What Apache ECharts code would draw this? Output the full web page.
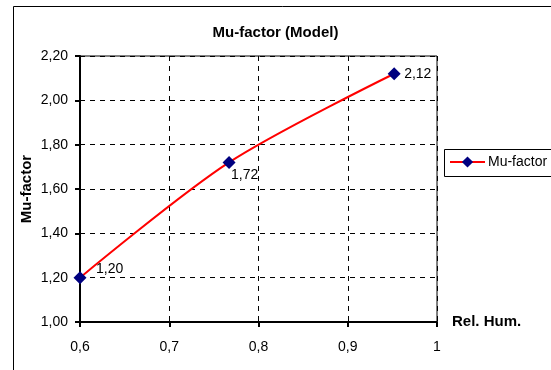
<!DOCTYPE html>
<html>
<head>
<meta charset="utf-8">
<script src="https://cdn.jsdelivr.net/npm/echarts@6/dist/echarts.min.js"></script>
<style>
  html, body { margin: 0; padding: 0; background: #fff; }
  #chart { width: 551px; height: 370px; }
</style>
</head>
<body>
<div id="chart"></div>
<script>
// Relative humidity vs. modelled Mu-factor
const relHum = [0.6, 0.767, 0.952];
const muFactor = [1.20, 1.72, 2.12];
const seriesName = 'Mu-factor';

// label placement for each point (relative to the marker box)
const labelPos = [[22.5, -2.5], [8.5, 19.5], [16.5, 6.5]];

const comma = (v, d) => (d == null ? String(v) : v.toFixed(d)).replace('.', ',');

const FONT = '"Liberation Sans", Arial, sans-serif';
const diamond = 'path://M0,-1 L1,0 L0,1 L-1,0 Z';

const chart = echarts.init(document.getElementById('chart'), null, { renderer: 'canvas' });

chart.setOption({
  animation: false,
  backgroundColor: '#fff',
  textStyle: { fontFamily: FONT, color: '#000' },
  title: {
    text: 'Mu-factor (Model)',
    left: 'center',
    top: 20,
    textStyle: { fontFamily: FONT, fontSize: 15, fontWeight: 'bold', color: '#000' }
  },
  graphic: [{
    // chart frame, running past the right and bottom edges
    type: 'rect',
    shape: { x: 13.5, y: 6.5, width: 560, height: 420 },
    style: { fill: null, stroke: '#000', lineWidth: 1 },
    silent: true,
    z: -1
  }, {
    // legend frame, running past the right edge
    type: 'rect',
    shape: { x: 444.5, y: 149.5, width: 140, height: 27 },
    style: { fill: null, stroke: '#000', lineWidth: 1 },
    silent: true,
    z: 10
  }],
  legend: {
    data: [seriesName],
    left: 444,
    top: 149,
    padding: [6, 5, 6, 5],
    borderWidth: 0,
    itemWidth: 35,
    itemHeight: 14,
    textStyle: { fontFamily: FONT, fontSize: 14, color: '#000', padding: [0, 0, 0, -2] }
  },
  grid: {
    left: 80, top: 56, right: 114, bottom: 48,
    show: true,
    borderColor: '#000',
    borderWidth: 1,
    backgroundColor: '#fff'
  },
  xAxis: {
    type: 'value',
    min: 0.6, max: 1, interval: 0.1,
    name: 'Rel. Hum.',
    nameLocation: 'end',
    nameGap: 15,
    nameMoveOverlap: false,
    nameTextStyle: { fontFamily: FONT, fontSize: 15, fontWeight: 'bold', color: '#000', verticalAlign: 'middle', padding: [6, 0, 0, 0] },
    axisLine: { onZero: false, lineStyle: { color: '#000', width: 2 } },
    axisTick: { show: true, length: 5, lineStyle: { color: '#000', width: 2 } },
    axisLabel: {
      fontFamily: FONT, fontSize: 14, color: '#000', margin: 18,
      formatter: v => (Math.abs(v - 1) < 1e-9 ? '1' : comma(Math.round(v * 10) / 10, 1))
    },
    splitLine: { show: true, lineStyle: { color: '#000', type: [5, 5], width: 1 } }
  },
  yAxis: {
    type: 'value',
    min: 1, max: 2.2, interval: 0.2,
    name: 'Mu-factor',
    nameLocation: 'middle',
    nameGap: 46,
    nameMoveOverlap: false,
    nameRotate: 90,
    nameTextStyle: { fontFamily: FONT, fontSize: 15, fontWeight: 'bold', color: '#000' },
    axisLine: { onZero: false, lineStyle: { color: '#000', width: 2 } },
    axisTick: { show: true, length: 5, lineStyle: { color: '#000', width: 2 } },
    axisLabel: {
      fontFamily: FONT, fontSize: 14, color: '#000', margin: 12,
      formatter: v => comma(v, 2)
    },
    splitLine: { show: true, lineStyle: { color: '#000', type: [5, 5], width: 1 } }
  },
  series: [{
    name: seriesName,
    type: 'line',
    smooth: 0.3,
    symbol: diamond,
    symbolSize: 13,
    lineStyle: { color: '#ff0000', width: 2 },
    itemStyle: { color: '#000080' },
    data: relHum.map((x, i) => ({
      value: [x, muFactor[i]],
      label: {
        show: true,
        position: labelPos[i],
        align: 'left',
        verticalAlign: 'middle',
        fontFamily: FONT,
        fontSize: 14,
        color: '#000',
        formatter: () => comma(muFactor[i], 2)
      }
    })),
    z: 3
  }]
});
</script>
</body>
</html>
